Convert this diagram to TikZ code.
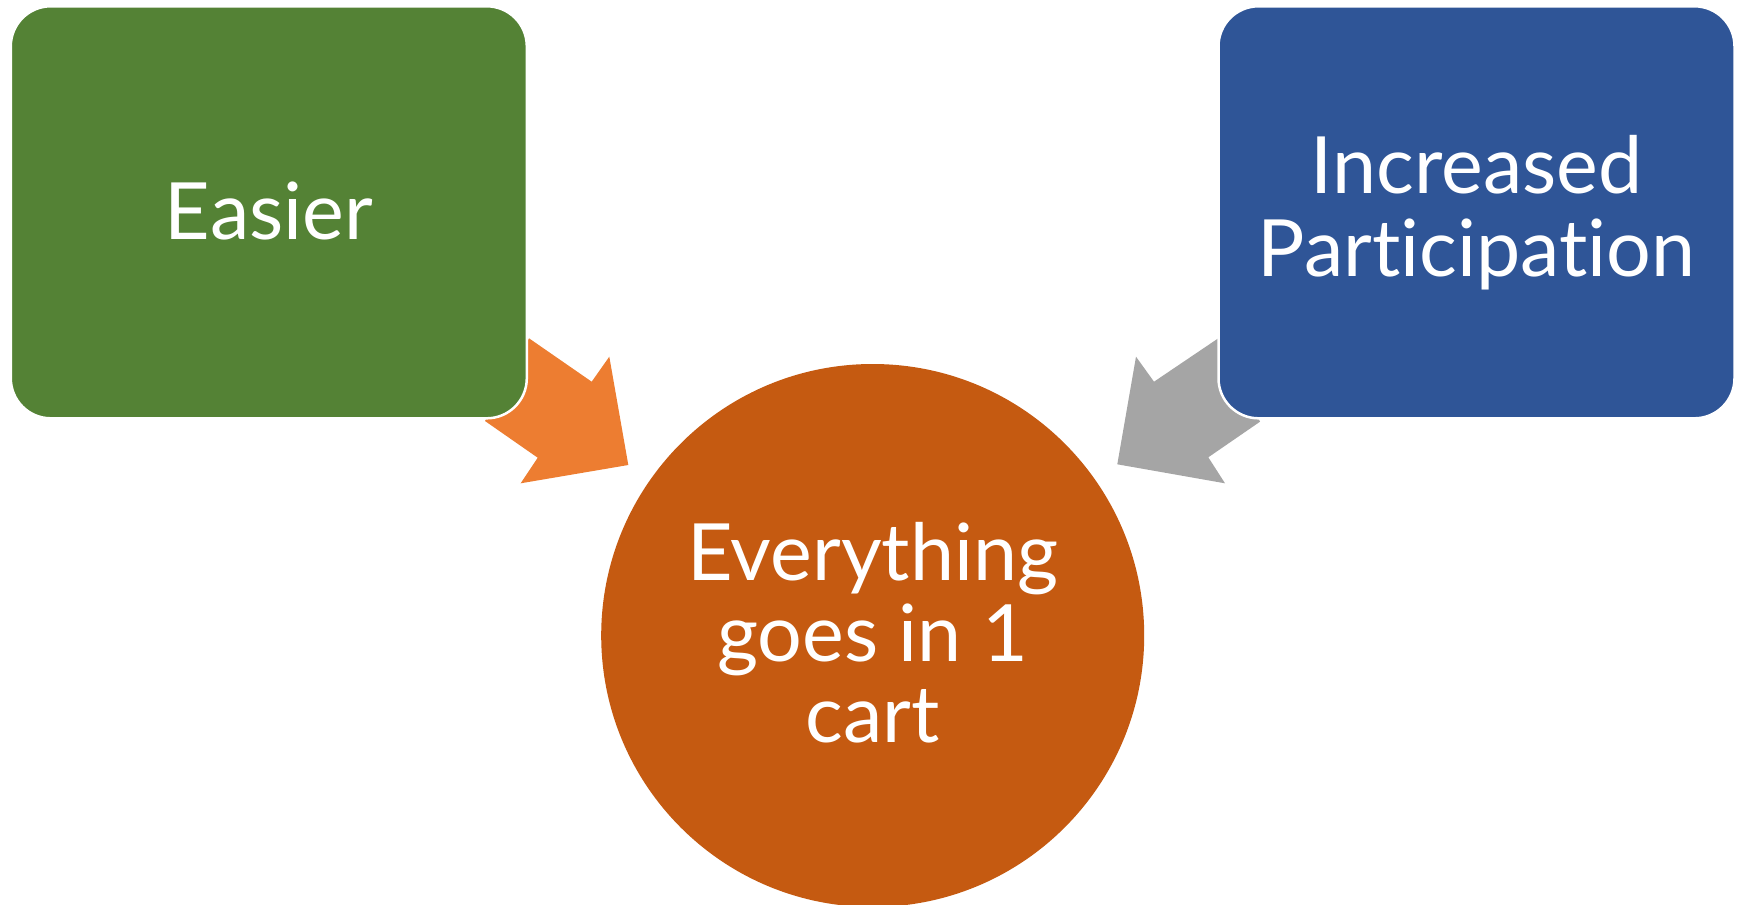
\documentclass[tikz,border=0pt]{standalone}
\usepackage{fontspec}
\setmainfont{Lato}[Ligatures={NoCommon,NoRare,NoContextual}]
\definecolor{boxgreen}{HTML}{548235}
\definecolor{boxblue}{HTML}{2F5597}
\definecolor{circorange}{HTML}{C55A11}
\definecolor{arrorange}{HTML}{ED7D31}
\definecolor{arrgray}{HTML}{A5A5A5}
\tikzset{
  roundbox/.style={rectangle, rounded corners=40pt, draw=white, line width=2.5pt,
    minimum width=516pt, minimum height=412pt, inner sep=0pt, text=white,
    align=center, font=\fontsize{79}{83}\selectfont},
  bigcircle/.style={circle, minimum size=543pt, inner sep=0pt, fill=circorange},
  circtext/.style={text=white, align=center, inner sep=0pt,
    font=\fontsize{79}{81}\selectfont}
}
\begin{document}
\begin{tikzpicture}[x=1pt,y=-1pt]
\useasboundingbox (0,0) rectangle (1741,905);
\fill[white] (0,0) rectangle (1741,905);
% block arrows (drawn first, partly hidden under the boxes)
\fill[arrorange] (485,421) -- (537.7,457.7) -- (520.7,483.3) -- (628.3,465)
  -- (609.3,356.7) -- (591.7,381.7) -- (529,338.3) -- cycle;
\fill[arrgray] (1260,421.7) -- (1208.3,457.3) -- (1225,483.3) -- (1117.3,464.3)
  -- (1136,356.7) -- (1154,381.7) -- (1218.3,338.3) -- cycle;
% boxes
\node[roundbox, fill=boxgreen] (easier) at (268.8,212.3) {\raisebox{3pt}{Easier}};
\node[roundbox, fill=boxblue] (part) at (1476.5,212.3) {\raisebox{-3pt}{Increased}\\\raisebox{-3pt}{Participation}};
% circle
\node[bigcircle] (cart) at (872.7,635.5) {};
\node[circtext] (carttext) at ([yshift=3pt]cart.center) {Everything\\goes in 1\\cart};
\end{tikzpicture}
\end{document}
